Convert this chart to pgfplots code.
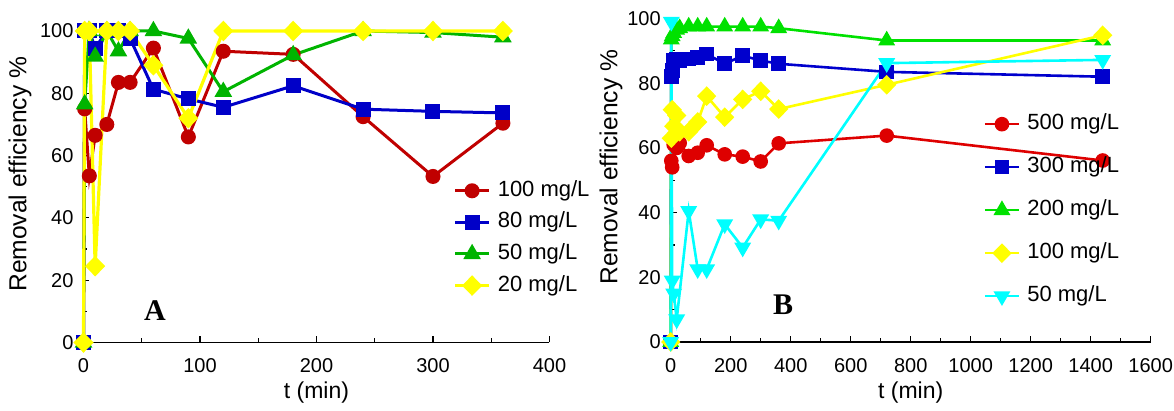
\documentclass[border=0pt]{standalone}
\usepackage{fontspec}
\setmainfont{Liberation Sans}
\newfontfamily\serifb{Liberation Serif}
\usepackage{pgfplots}
\pgfplotsset{compat=1.18}
\definecolor{redA}{RGB}{192,0,0}
\definecolor{blueA}{RGB}{0,0,200}
\definecolor{greenA}{RGB}{0,180,0}
\definecolor{yel}{RGB}{255,255,0}
\definecolor{redB}{RGB}{222,0,0}
\definecolor{blueB}{RGB}{0,0,205}
\definecolor{greenB}{RGB}{0,225,0}
\definecolor{cyn}{RGB}{0,255,255}
\pgfplotsset{
  myaxis/.style={
    anchor=south west, scale only axis,
    ymin=0, ymax=100, xmin=0,
    axis lines=left, x axis line style={-}, y axis line style={-},
    axis line style={line width=0.8pt, black},
    tick align=inside, tick style={black, line width=0.6pt},
    major tick length=3pt, minor tick length=2pt,
    ytick={0,20,...,100}, minor y tick num=1, minor x tick num=1,
    ticklabel style={font=\fontsize{10}{12}\selectfont},
    /pgf/number format/assume math mode=true,
    /pgf/number format/1000 sep={},
    xticklabel style={yshift=-4.5pt},
    yticklabel style={xshift=-1.5pt},
    xlabel style={font=\fontsize{11.5}{13}\selectfont},
    ylabel style={font=\fontsize{12.3}{14}\selectfont},
    clip=false,
    legend cell align=left,
  },
}
\begin{document}
\begin{tikzpicture}[x=1pt,y=1pt]
\path[use as bounding box] (0,0) rectangle (587,205.5);
\begin{axis}[myaxis,
  at={(41.75pt,34.25pt)}, width=233pt, height=155.75pt,
  xmax=400, xtick={0,100,...,400},
  xlabel={t (min)}, ylabel={Removal efficiency \%},
  xlabel style={at={(axis description cs:0.5,-0.16)}, anchor=center},
  ylabel style={at={(axis description cs:-0.1363,0.54)}, anchor=center},
  legend style={draw=none, fill=none, inner sep=0pt, row sep=5.3pt, column sep=3.5pt,
    at={(0.793,0.522)}, anchor=north west, font=\fontsize{11}{13}\selectfont,
    nodes={inner sep=0pt, text height=8pt, text depth=2.5pt}},
]
\addplot[redA, line width=1.5pt, mark=*, mark size=3pt] coordinates {
(0,0)(1,75)(5,53.5)(10,66.5)(20,70)(30,83.5)(40,83.5)(60,94.5)(90,66)(120,93.5)(180,92.5)(240,72.5)(300,53.3)(360,70.4)};
\addlegendentry{100 mg/L}
\addplot[blueA, line width=1.5pt, mark=square*, mark size=3pt] coordinates {
(0,0)(1,100)(5,100)(10,94.5)(20,100)(30,100)(40,97.6)(60,81.3)(90,78.2)(120,75.5)(180,82.4)(240,74.9)(300,74.2)(360,73.7)};
\addlegendentry{80 mg/L}
\addplot[greenA, line width=1.5pt, mark=triangle*, mark size=3.6pt] coordinates {
(0,0)(1,76.5)(5,100)(10,91.8)(20,100)(30,93.5)(40,100)(60,100)(90,97.6)(120,80.5)(180,92.3)(240,100)(300,99.5)(360,98)};
\addlegendentry{50 mg/L}
\addplot[yel, line width=1.6pt, mark=diamond*, mark size=4pt, mark options={xscale=1.3}] coordinates {
(0,0)(1,100)(5,100)(10,24.5)(20,100)(30,100)(40,100)(60,89)(90,72)(120,100)(180,100)(240,100)(300,100)(360,100)};
\addlegendentry{20 mg/L}
\end{axis}
\node at (77.5,50) {\serifb\bfseries\fontsize{15}{15}\selectfont A};
\begin{axis}[myaxis,
  at={(335.35pt,34.5pt)}, width=240pt, height=161.75pt,
  xmax=1600, xtick={0,200,...,1600},
  xlabel={t (min)}, ylabel={Removal efficiency \%},
  xlabel style={at={(axis description cs:0.5,-0.156)}, anchor=center},
  ylabel style={at={(axis description cs:-0.1244,0.54)}, anchor=center},
  legend style={draw=none, fill=none, inner sep=0pt, row sep=11pt, column sep=3.5pt,
    at={(0.651,0.707)}, anchor=north west, font=\fontsize{11}{13}\selectfont,
    nodes={inner sep=0pt, text height=8pt, text depth=2.5pt}},
]
\addplot[redB, line width=1.3pt, mark=*, mark size=3pt] coordinates {
(0,0)(2,56)(5,54)(10,61)(20,60)(30,61.5)(60,57.5)(90,58.5)(120,60.8)(180,58)(240,57.3)(300,55.8)(360,61.4)(720,63.8)(1440,56.1)};
\addlegendentry{500 mg/L}
\addplot[blueB, line width=1.3pt, mark=square*, mark size=3pt] coordinates {
(0,0)(2,82)(5,84)(10,87)(20,87.5)(30,87)(60,87.5)(90,88)(120,89)(180,86)(240,88.5)(300,87)(360,86)(720,83.5)(1440,82)};
\addlegendentry{300 mg/L}
\addplot[greenB, line width=1.3pt, mark=triangle*, mark size=3.6pt] coordinates {
(0,0)(2,93.5)(5,94.5)(10,95.5)(20,96.5)(30,97)(60,97.5)(90,97.5)(120,97.5)(180,97.5)(240,97.5)(300,97.5)(360,97)(720,93.2)(1440,93.2)};
\addlegendentry{200 mg/L}
\addplot[yel, line width=1.3pt, mark=diamond*, mark size=4pt, mark options={xscale=1.3}] coordinates {
(0,0)(2,63)(5,71.8)(10,66.7)(20,70)(30,65)(60,65)(90,68)(120,76)(180,69.5)(240,75)(300,77.5)(360,72)(720,79.5)(1440,94.8)};
\addlegendentry{100 mg/L}
\addplot[cyn, line width=1.3pt, mark=triangle*, mark size=3.6pt, mark options={rotate=180}] coordinates {
(0,0)(2,99)(5,19)(10,15)(20,7)(60,40.5)(90,22.5)(120,22.5)(180,36.4)(240,29.2)(300,37.9)(360,37.5)(720,86.2)(1440,87.2)};
\addlegendentry{50 mg/L}
\end{axis}
\node at (391.5,53) {\serifb\bfseries\fontsize{15}{15}\selectfont B};
\end{tikzpicture}
\end{document}
